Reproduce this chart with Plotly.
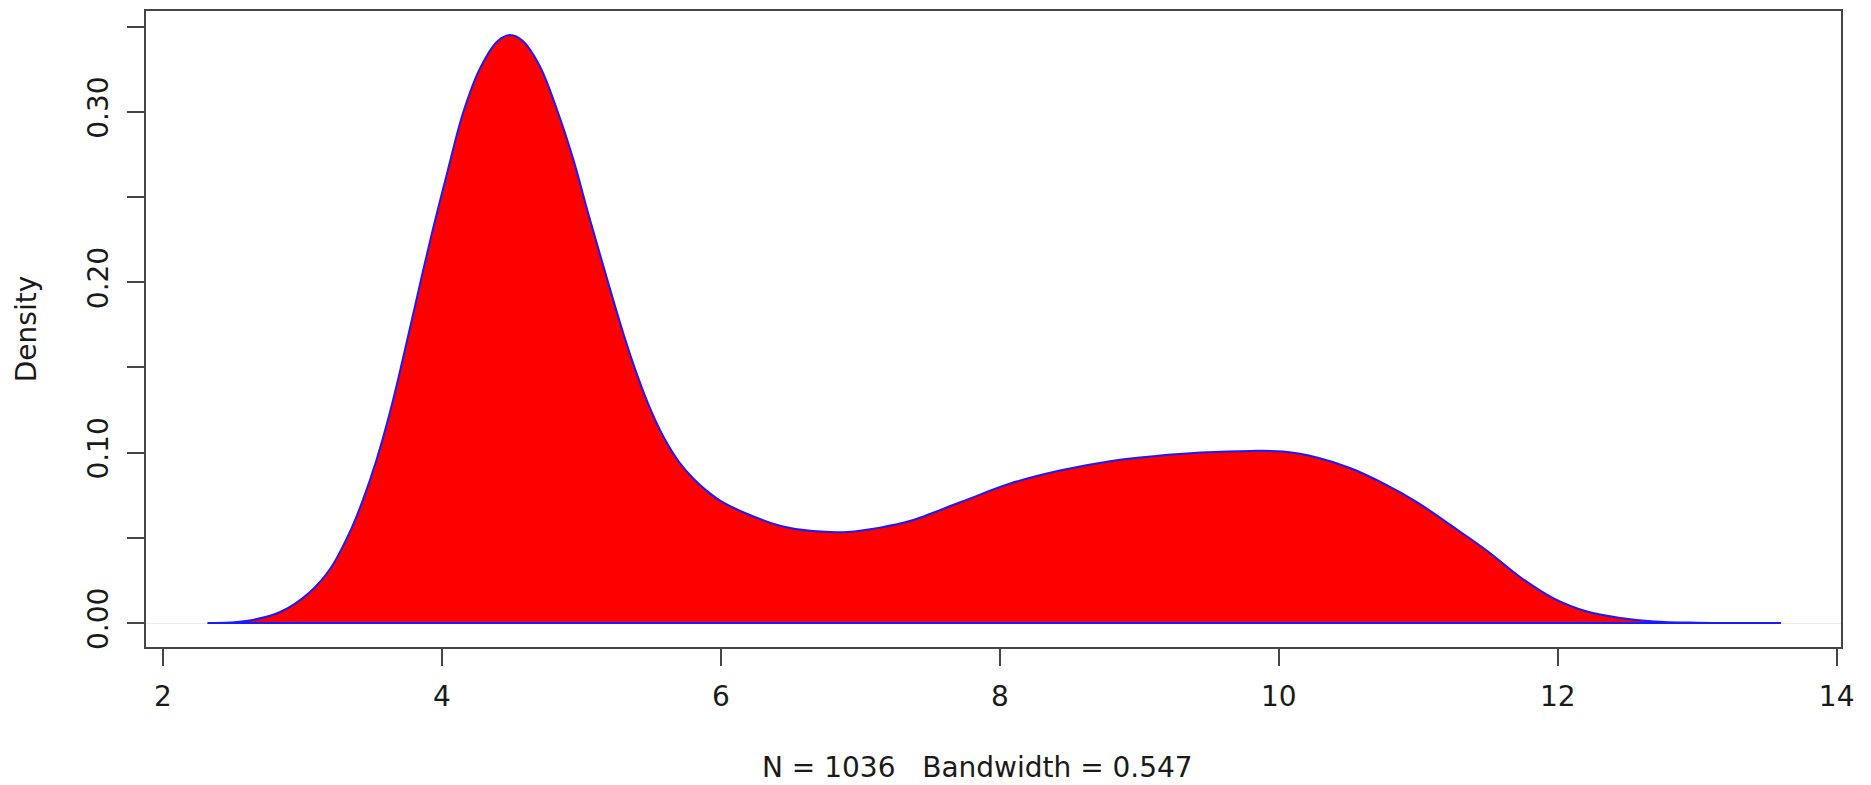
import plotly.graph_objects as go

# Kernel density estimate (N = 1036, bandwidth = 0.547), evaluated on a grid
density_x = [2.32, 2.48, 2.62, 2.84, 3.05, 3.20, 3.34, 3.43, 3.53, 3.63,
             3.70, 3.79, 3.92, 4.04, 4.15, 4.27, 4.40, 4.49, 4.58, 4.70,
             4.83, 4.94, 5.06, 5.18, 5.30, 5.40, 5.50, 5.60, 5.70, 5.80,
             5.90, 6.00, 6.19, 6.43, 6.66, 6.91, 7.14, 7.36, 7.72, 8.08,
             8.43, 8.79, 9.12, 9.44, 9.80, 10.03, 10.28, 10.51, 10.75, 10.99,
             11.24, 11.50, 11.73, 11.97, 12.21, 12.45, 12.69, 13.00, 13.60]
density_y = [0.0, 0.0003, 0.0015, 0.0065, 0.018, 0.032, 0.0535, 0.0715, 0.0955, 0.1245,
             0.148, 0.180, 0.226, 0.265, 0.299, 0.325, 0.3415, 0.345, 0.3415, 0.327,
             0.300, 0.2725, 0.237, 0.203, 0.170, 0.1455, 0.1245, 0.1075, 0.0945, 0.085,
             0.0775, 0.0715, 0.064, 0.057, 0.054, 0.0535, 0.056, 0.060, 0.071, 0.082,
             0.0895, 0.095, 0.098, 0.100, 0.101, 0.1006, 0.097, 0.091, 0.082, 0.071,
             0.057, 0.042, 0.027, 0.0145, 0.0068, 0.003, 0.0009, 0.0002, 0.0]

n_obs = 1036
bandwidth = 0.547

x_ticks = [2, 4, 6, 8, 10, 12, 14]
y_ticks = [0.00, 0.05, 0.10, 0.15, 0.20, 0.25, 0.30, 0.35]
y_tick_labels = ["0.00", "", "0.10", "", "0.20", "", "0.30", ""]

FONT = "DejaVu Sans"
TEXT_COLOR = "#1a1a1a"
AXIS_COLOR = "#454545"

fig = go.Figure()

# filled density area (closed along the baseline)
fig.add_trace(go.Scatter(
    x=density_x, y=density_y,
    mode="lines",
    fill="tozeroy",
    fillcolor="#ff0000",
    line=dict(color="#1a1aff", width=2, shape="spline", smoothing=1.0),
    hoverinfo="skip",
    showlegend=False,
))
# polygon border along the baseline
fig.add_trace(go.Scatter(
    x=[density_x[0], density_x[-1]], y=[density_y[0], density_y[-1]],
    mode="lines",
    line=dict(color="#1a1aff", width=2),
    hoverinfo="skip",
    showlegend=False,
))

axis_common = dict(
    showline=True, mirror=True, linecolor=AXIS_COLOR, linewidth=2,
    ticks="outside", ticklen=17, tickwidth=2, tickcolor=AXIS_COLOR,
    showgrid=False,
    tickfont=dict(family=FONT, size=28, color=TEXT_COLOR),
)

fig.update_layout(
    width=1871, height=785,
    margin=dict(l=146, r=30, t=9, b=138),
    paper_bgcolor="white", plot_bgcolor="white",
    font=dict(family=FONT, size=28, color=TEXT_COLOR),
    xaxis=dict(
        range=[1.878, 14.031],
        tickvals=x_ticks, ticktext=[str(v) for v in x_ticks],
        zeroline=False,
        ticklabelstandoff=6,
        **axis_common,
    ),
    yaxis=dict(
        range=[-0.01404, 0.3591],
        tickvals=y_ticks, ticktext=y_tick_labels,
        tickangle=-90,
        zeroline=True, zerolinecolor="#ececec", zerolinewidth=1,
        title=dict(text="Density", font=dict(family=FONT, size=28, color=TEXT_COLOR),
                   standoff=37),
        ticklabelstandoff=8,
        **axis_common,
    ),
    annotations=[dict(
        text=f"N = {n_obs}   Bandwidth = {bandwidth}",
        xref="paper", yref="paper", x=0.4903, y=-0.1897,
        xanchor="center", yanchor="middle", showarrow=False,
        font=dict(family=FONT, size=28, color=TEXT_COLOR),
    )],
)

fig.write_html("out.html")
